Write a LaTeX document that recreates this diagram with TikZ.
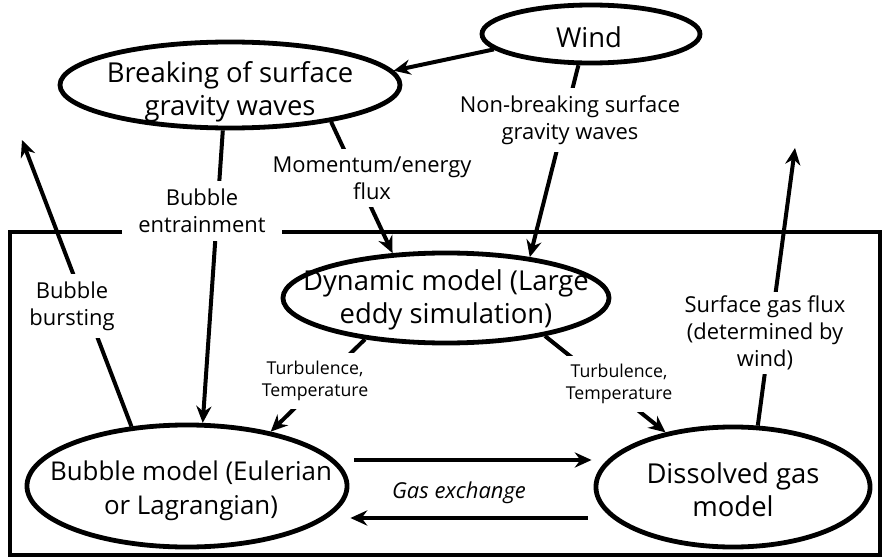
\documentclass[tikz,border=0pt]{standalone}
\usepackage{fontspec}
\setmainfont{Open Sans}
\usetikzlibrary{shapes.geometric,arrows.meta,calc}

\begin{document}
\begin{tikzpicture}[x=0.025cm,y=-0.025cm,
  model/.style={draw,ellipse,line width=0.12cm,inner sep=0pt},
  flow/.style={line width=0.1cm,-{Stealth[length=0.42cm,width=0.38cm,inset=0.14cm]}},
  big/.style={align=center,font=\fontsize{19.5}{23.5}\selectfont},
  lbl/.style={align=center,fill=white,inner sep=0.2cm,font=\fontsize{15.6}{19}\selectfont},
  small/.style={align=center,fill=white,inner sep=0.2cm,font=\fontsize{12.6}{16}\selectfont}]

\useasboundingbox (0,0) rectangle (884,559);

\draw[line width=0.1cm] (122,232) -- (10,232) -- (10,555) -- (880,555) -- (880,232) -- (282,232);

\node[model,minimum width=5.45cm,minimum height=1.45cm] (wind) at (591,34) {};
\node[model,minimum width=8.5cm,minimum height=2.15cm] (brk) at (230,85) {};
\node[model,minimum width=8.15cm,minimum height=2.25cm] (dyn) at (446,298) {};
\node[model,minimum width=8cm,minimum height=3.05cm] (bub) at (187,486) {};
\node[model,minimum width=6.85cm,minimum height=3cm] (dis) at (733,487) {};

\node[big] (wind-t) at (589,37) {Wind};
\node[big] (brk-t) at (230,92) {Breaking of surface\\gravity waves};
\node[big] (dyn-t) at (446,300) {Dynamic model (Large\\eddy simulation)};
\node[big,font=\fontsize{18.4}{24}\selectfont] (bub-t) at (191,491) {Bubble model (Eulerian\\or Lagrangian)};
\node[big] (dis-t) at (733,490) {Dissolved gas\\model};

\coordinate (burst-tip) at (22,140);
\coordinate (flux-tip) at (795,148);

\draw[flow] (wind.189) -- (brk.5);
\draw[flow] (wind.248) -- (dyn.26);
\draw[flow] (brk.-20) -- (dyn.140);
\draw[flow] (brk.-99) -- (bub.76);
\draw[flow] (bub.133) -- (burst-tip);
\draw[flow] (dyn.207) -- (bub.33);
\draw[flow] (dyn.-21) -- (dis.141);
\draw[flow] ($(bub.east)+(5,-26)$) -- ($(dis.west)+(-2,-27)$);
\draw[flow] ($(dis.west)+(-6,31)$) -- ($(bub.east)+(1,32)$);
\draw[flow] (dis.68) -- (flux-tip);

\node[lbl] (nbw) at (570,120) {Non-breaking surface\\gravity waves};
\node[lbl] (mom) at (372,178) {Momentum/energy\\flux};
\node[lbl] (ent) at (202,211) {Bubble\\entrainment};
\node[lbl] (burst) at (72,306) {Bubble\\bursting};
\node[small] (turb-l) at (315,381) {Turbulence,\\Temperature};
\node[small] (turb-r) at (619,384) {Turbulence,\\Temperature};
\node[lbl,fill=none,font=\fontsize{15.6}{19}\selectfont\itshape] (gasx) at (459,493) {Gas exchange};
\node[lbl,inner ysep=0.1cm] (flux) at (765,333) {Surface gas flux\\(determined by\\wind)};

\end{tikzpicture}
\end{document}
